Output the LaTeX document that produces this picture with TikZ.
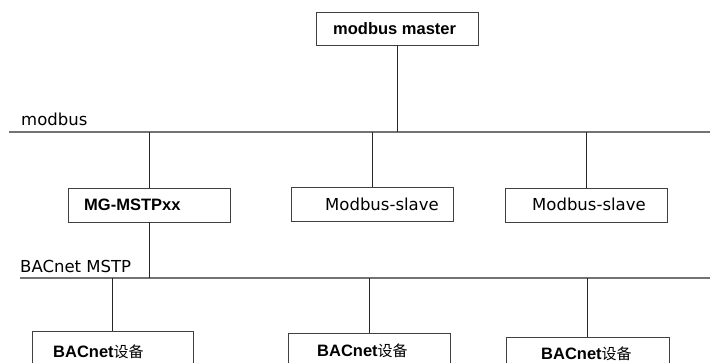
\documentclass[tikz,border=0pt]{standalone}
\usepackage{fontspec}
\setmainfont{DejaVu Sans}
\newfontfamily\arialfont{Liberation Sans}
\newfontfamily\cjk{Noto Sans CJK SC}

\begin{document}
\begin{tikzpicture}[x=1pt,y=-1pt,
  box/.style={draw=black!75,line width=0.9pt,rectangle,inner sep=0pt,minimum height=34pt},
  bus/.style={draw=black!55,line width=1.4pt},
  wire/.style={draw=black!85,line width=0.8pt},
  txt/.style={anchor=base west,inner sep=0pt,font=\fontsize{16.5}{19}\selectfont},
  btxt/.style={anchor=base west,inner sep=0pt,font=\arialfont\bfseries\fontsize{16.5}{19}\selectfont}]

\path[use as bounding box,clip] (0,0) rectangle (710,363);
\fill[white] (0,0) rectangle (710,363);

% the two buses
\coordinate (mbA) at (9,132);
\coordinate (mbB) at (710,132);
\coordinate (bnA) at (20,278);
\coordinate (bnB) at (710,278);
\draw[bus] (mbA) -- (mbB);
\draw[bus] (bnA) -- (bnB);
\node[txt] (mblabel) at (21,126) {modbus};
\node[txt] (bnlabel) at (20,273) {BACnet MSTP};

% boxes
\node[box,minimum width=162pt,minimum height=33pt] (master) at (397,28.5) {};
\node[box,minimum width=162pt] (gateway) at (149,205) {};
\node[box,minimum width=162pt] (slaveA) at (372,204) {};
\node[box,minimum width=162pt] (slaveB) at (586,205) {};
\node[box,minimum width=161pt,minimum height=40pt] (devA) at (112.5,351) {};
\node[box,minimum width=162pt,minimum height=40pt] (devB) at (369,353) {};
\node[box,minimum width=163pt,minimum height=40pt] (devC) at (587.5,357) {};

% texts
\node[btxt] (mastertext) at (333,35) {modbus master};
\node[btxt] (gatewaytext) at (84,211) {MG-MSTPxx};
\node[txt] (slaveAtext) at (325,210.7) {Modbus-slave};
\node[txt] (slaveBtext) at (532,211) {Modbus-slave};
\node[btxt] (devAtext) at (53,358) {BACnet{\cjk\mdseries\fontsize{15}{18}\selectfont 设备}};
\node[btxt] (devBtext) at (317,357) {BACnet{\cjk\mdseries\fontsize{15}{18}\selectfont 设备}};
\node[btxt] (devCtext) at (541,360) {BACnet{\cjk\mdseries\fontsize{15}{18}\selectfont 设备}};

% drops
\draw[wire] (master.south) -- (master.south |- mbA);
\draw[wire] (gateway.north) -- (gateway.north |- mbA);
\draw[wire] (slaveA.north) -- (slaveA.north |- mbA);
\draw[wire] (slaveB.north) -- (slaveB.north |- mbA);
\draw[wire] (gateway.south) -- (gateway.south |- bnA);
\draw[wire] (devA.north) -- (devA.north |- bnA);
\draw[wire] (devB.north) -- (devB.north |- bnA);
\draw[wire] (devC.north) -- (devC.north |- bnA);

\end{tikzpicture}
\end{document}
